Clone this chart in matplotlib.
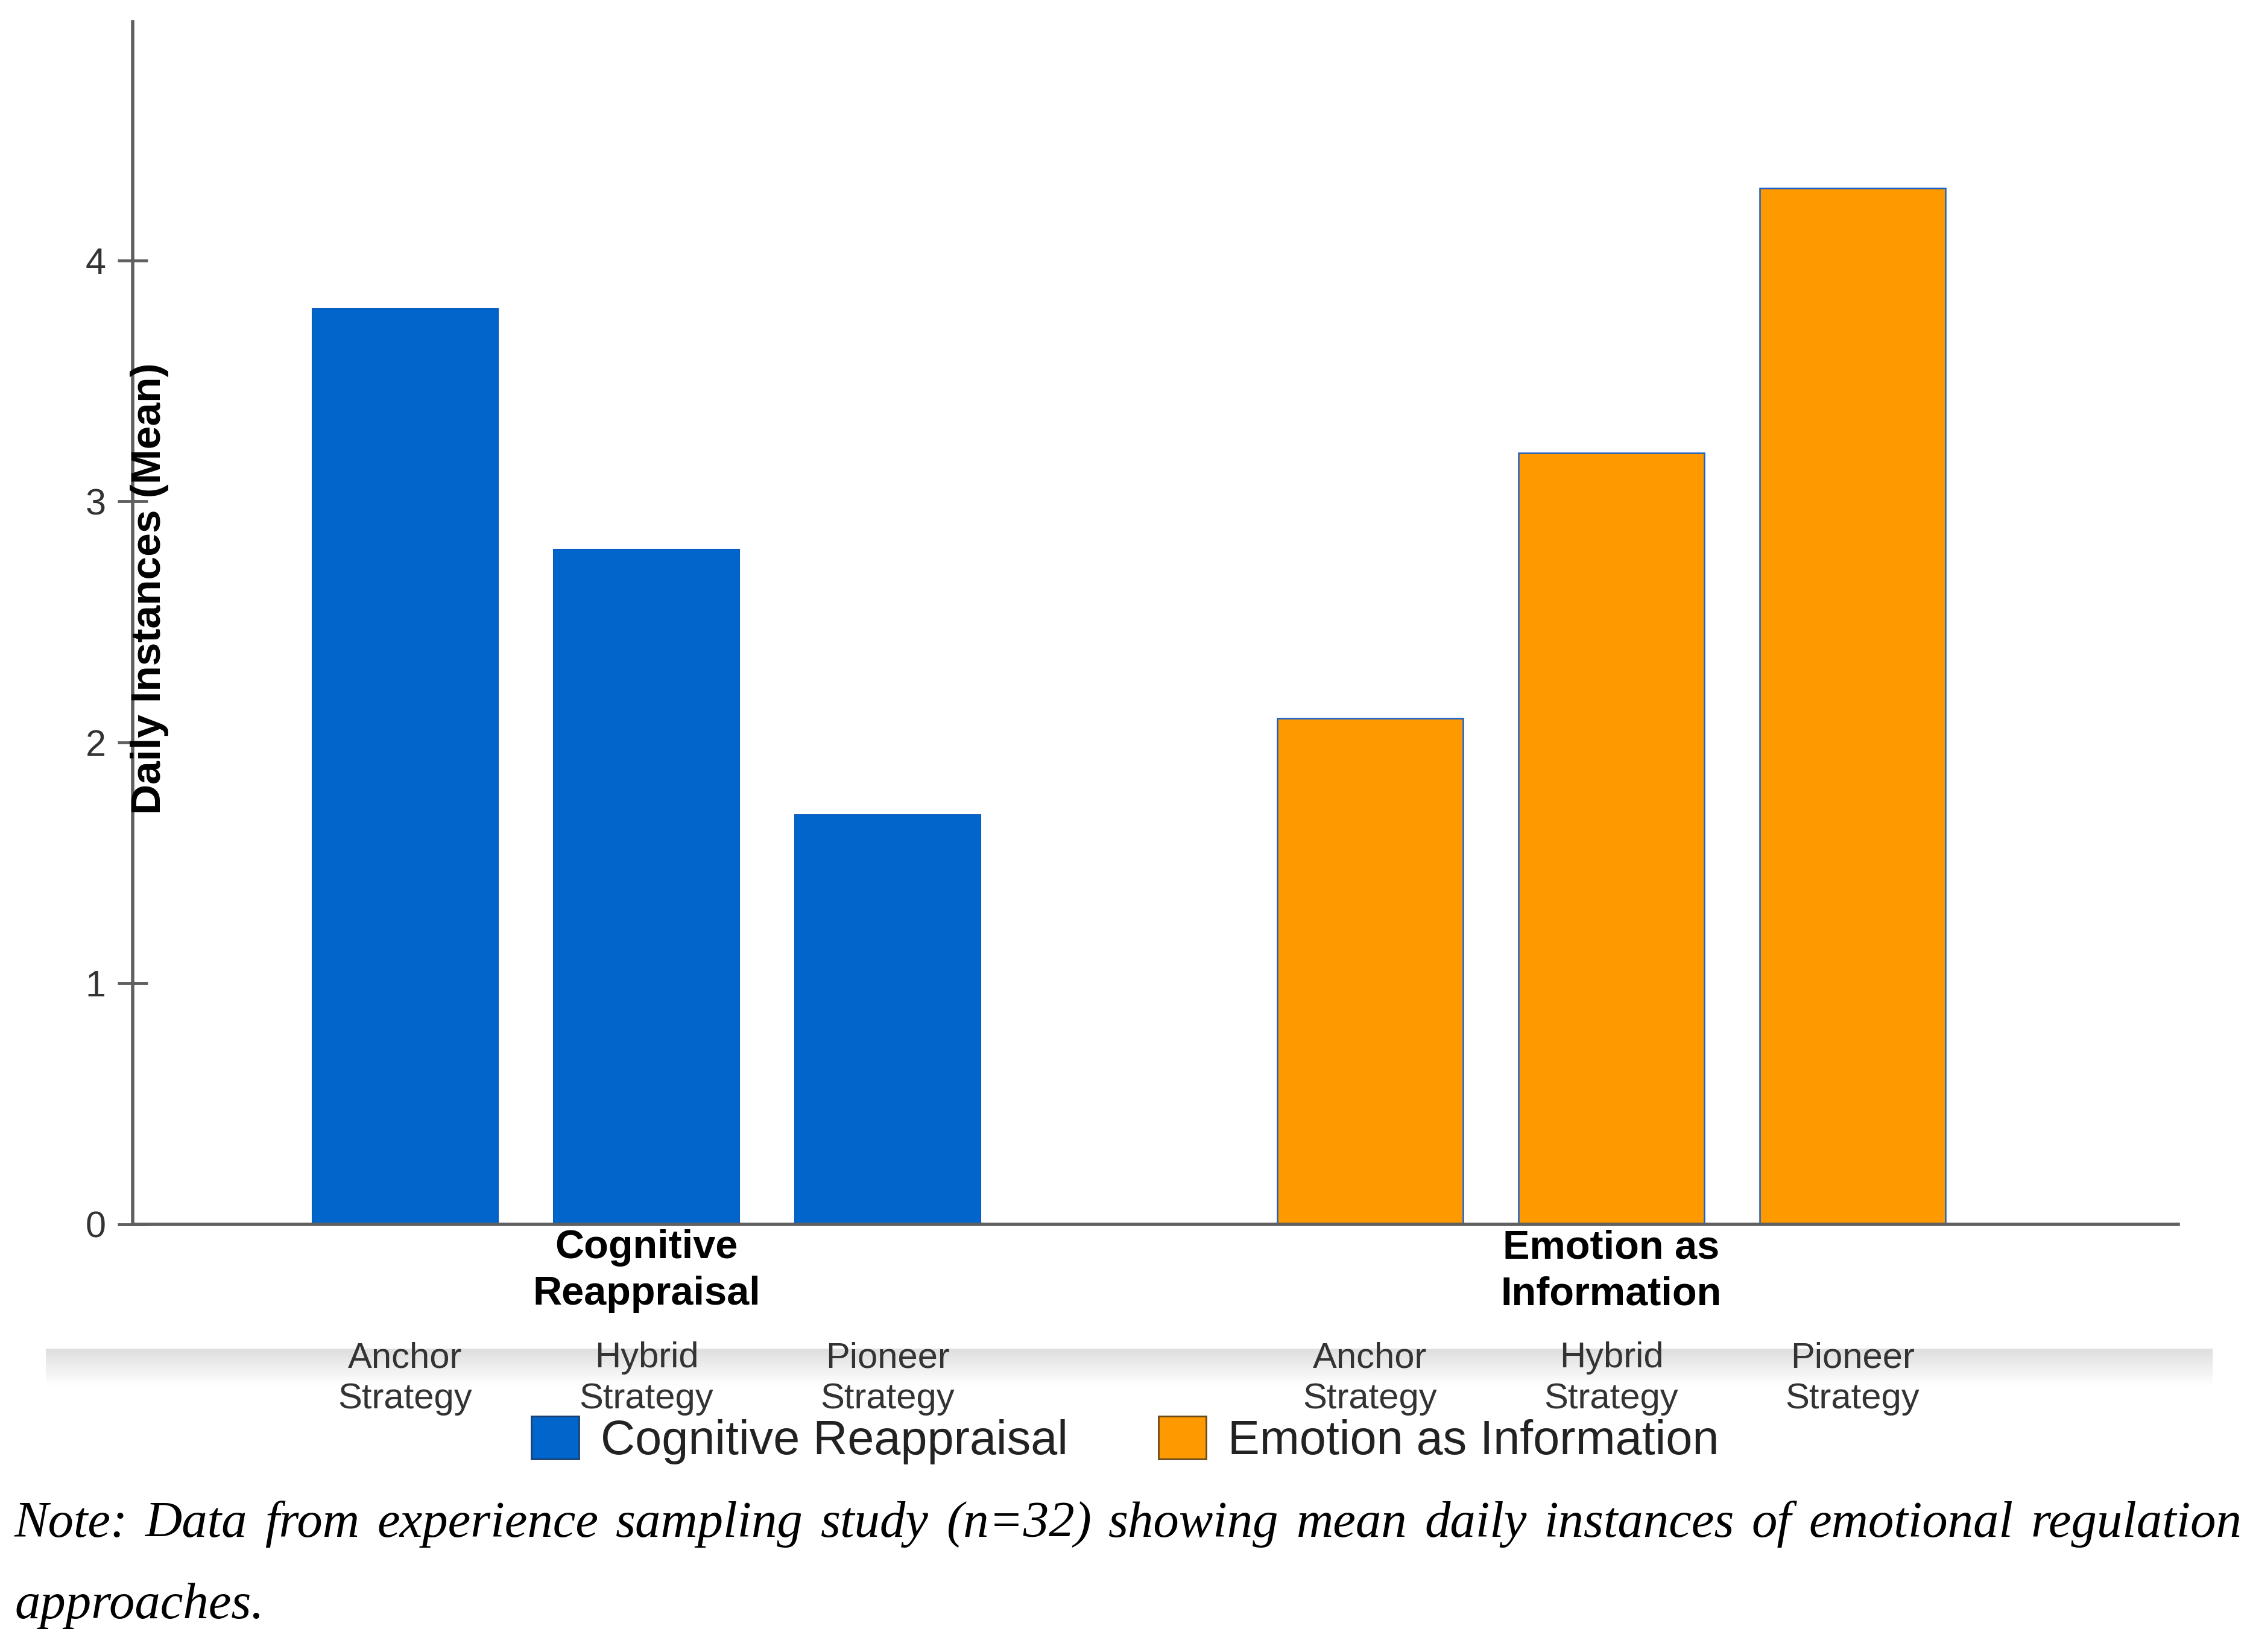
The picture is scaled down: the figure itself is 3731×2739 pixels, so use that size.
import numpy as np
import matplotlib.pyplot as plt
from matplotlib.patches import Patch

groups = ["Cognitive\nReappraisal", "Emotion as\nInformation"]
strategies = ["Anchor\nStrategy", "Hybrid\nStrategy", "Pioneer\nStrategy"]
cognitive_reappraisal = [3.8, 2.8, 1.7]
emotion_as_information = [2.1, 3.2, 4.3]

note_line1 = "Note: Data from experience sampling study (n=32) showing mean daily instances of emotional regulation"
note_line2 = "approaches."

blue = "#0066CC"
orange = "#FF9900"
blue_edge = "#0a5cc0"
orange_edge = "#1a5fc8"

plt.rcParams['font.family'] = ['Liberation Sans', 'DejaVu Sans']

W, H = 3731, 2739
fig = plt.figure(figsize=(W / 100, H / 100), dpi=100)
ax = fig.add_axes([220 / W, 1 - 2030 / H, (3612 - 220) / W, (2030 - 36) / H])
ax.set_zorder(2)

pos_cr = np.arange(3)
pos_ei = np.arange(3) + 4
ax.bar(pos_cr, cognitive_reappraisal, width=0.77, color=blue, edgecolor=blue_edge, linewidth=1.5)
ax.bar(pos_ei, emotion_as_information, width=0.77, color=orange, edgecolor=orange_edge, linewidth=1.8)

ax.set_xlim(-1.13, 7.35)
ax.set_ylim(0, 4.99)
ax.set_yticks([0, 1, 2, 3, 4])
ax.tick_params(axis='y', direction='inout', length=36, width=3.5, color='#606060',
               labelsize=44, labelcolor='#333333', pad=14)

ax.set_xticks(list(pos_cr) + list(pos_ei))
ax.set_xticklabels(strategies * 2, linespacing=1.3)
ax.tick_params(axis='x', length=0, labelsize=43, labelcolor='#333333', pad=140)

for s in ['top', 'right']:
    ax.spines[s].set_visible(False)
for s in ['left', 'bottom']:
    ax.spines[s].set_color('#606060')
    ax.spines[s].set_linewidth(4)

# group labels under the axis
for x, g in zip([1, 5], groups):
    ax.text(x, -0.039, g, transform=ax.get_xaxis_transform(), ha='center', va='center',
            fontsize=48, fontweight='bold', linespacing=1.32, clip_on=False)

fig.text(248 / W, 1 - 976 / H, "Daily Instances (Mean)", rotation=90, ha='center', va='center',
         fontsize=50, fontweight='bold', zorder=5)

# light gray band behind the strategy labels
band = fig.add_axes([76 / W, 1 - 2300 / H, (3669 - 76) / W, 64 / H])
band.set_zorder(0)
grad = np.linspace(0.87, 1.0, 64).reshape(-1, 1)
band.imshow(grad, cmap='gray', vmin=0, vmax=1, aspect='auto', extent=[0, 1, 0, 1], origin='upper')
band.axis('off')

handles = [Patch(facecolor=blue, edgecolor='#1b3f73', linewidth=2, label='Cognitive Reappraisal'),
           Patch(facecolor=orange, edgecolor='#6b4a1a', linewidth=2, label='Emotion as Information')]
leg = fig.legend(handles=handles, loc='center', bbox_to_anchor=(0.5, 1 - 2388 / H), ncol=2,
                 frameon=False, fontsize=57, handlelength=1.0, handleheight=1.0,
                 handletextpad=0.45, columnspacing=1.9)
for t in leg.get_texts():
    t.set_color('#222222')

# justified note
note_font = dict(family='Liberation Serif', style='italic', fontsize=61)
renderer = fig.canvas.get_renderer()
x_left, x_right = 24, 3717
words = note_line1.split()
texts = [fig.text(0, 1 - 2548 / H, w, ha='left', va='baseline', **note_font) for w in words]
widths = [t.get_window_extent(renderer).width for t in texts]
gap = (x_right - x_left - sum(widths)) / (len(words) - 1)
x = x_left
for t, w in zip(texts, widths):
    t.set_x(x / W)
    x += w + gap
fig.text(x_left / W, 1 - 2683 / H, note_line2, ha='left', va='baseline', **note_font)

fig.savefig("out.png", dpi=100)
